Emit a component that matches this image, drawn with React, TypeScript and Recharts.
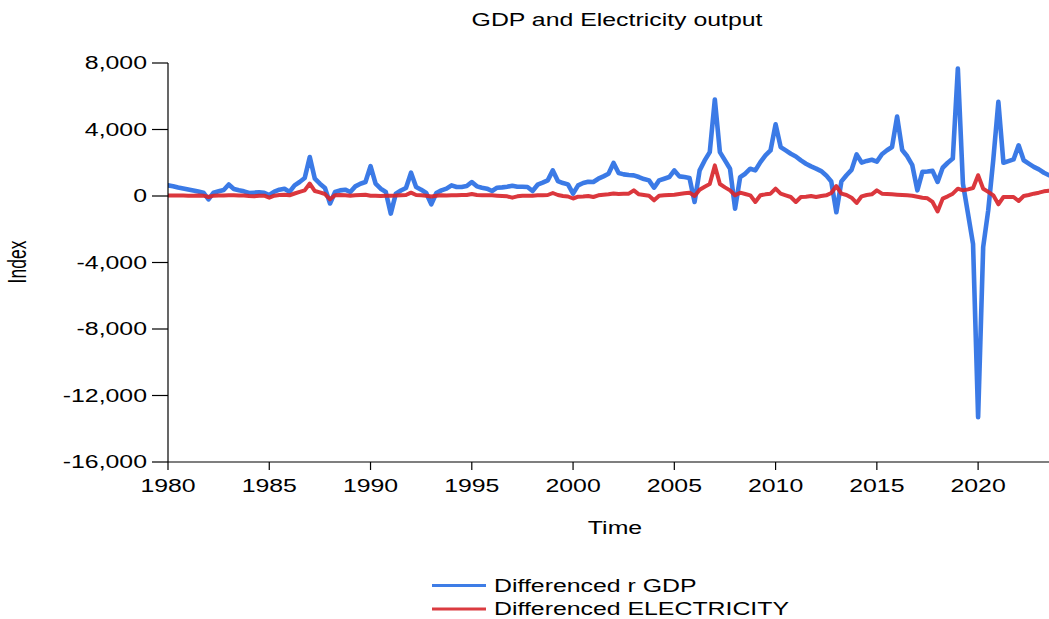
import React from "react";
import { LineChart, Line, XAxis, YAxis } from "recharts";

// Quarterly first differences, 1980Q1 – 2023Q3
const startYear = 1980;

const gdpDiff = [
  640, 590, 510, 450, // 1980
  390, 330, 270, 200, // 1981
  -200, 200, 280, 360, // 1982
  690, 420, 340, 280, // 1983
  180, 200, 220, 190, // 1984
  60, 260, 380, 440, // 1985
  250, 640, 840, 1080, // 1986
  2340, 1040, 740, 480, // 1987
  -450, 240, 340, 380, // 1988
  240, 580, 740, 840, // 1989
  1800, 740, 440, 250, // 1990
  -1060, 140, 330, 480, // 1991
  1400, 540, 380, 180, // 1992
  -500, 180, 340, 440, // 1993
  640, 540, 540, 600, // 1994
  840, 580, 500, 440, // 1995
  300, 500, 520, 560, // 1996
  620, 560, 560, 540, // 1997
  300, 680, 800, 940, // 1998
  1540, 900, 780, 700, // 1999
  140, 640, 780, 860, // 2000
  840, 1040, 1180, 1340, // 2001
  1990, 1380, 1300, 1260, // 2002
  1240, 1140, 1020, 940, // 2003
  500, 940, 1040, 1140, // 2004
  1540, 1180, 1140, 1080, // 2005
  -360, 1540, 2140, 2640, // 2006
  5800, 2640, 2140, 1640, // 2007
  -760, 1140, 1340, 1640, // 2008
  1540, 2040, 2440, 2740, // 2009
  4310, 2940, 2740, 2540, // 2010
  2380, 2140, 1940, 1780, // 2011
  1650, 1500, 1240, 870, // 2012
  -980, 880, 1250, 1570, // 2013
  2500, 2010, 2110, 2180, // 2014
  2070, 2510, 2750, 2950, // 2015
  4780, 2770, 2390, 1850, // 2016
  340, 1450, 1470, 1510, // 2017
  845, 1700, 2000, 2250, // 2018
  7670, 750, -1060, -2900, // 2019
  -13300, -3070, -860, 2200, // 2020
  5660, 2000, 2100, 2200, // 2021
  3050, 2150, 1950, 1750, // 2022
  1600, 1400, 1250, // 2023
];

const electricityDiff = [
  30, 30, 30, 30, // 1980
  20, 20, 30, 20, // 1981
  -60, 20, 30, 30, // 1982
  40, 40, 30, 30, // 1983
  0, -20, 10, 20, // 1984
  -100, 20, 60, 80, // 1985
  40, 150, 250, 340, // 1986
  750, 300, 220, 120, // 1987
  -200, 50, 60, 40, // 1988
  20, 40, 60, 80, // 1989
  20, 20, 0, 10, // 1990
  20, 30, 50, 60, // 1991
  200, 60, 40, 20, // 1992
  -30, 20, 40, 30, // 1993
  40, 40, 60, 60, // 1994
  120, 60, 50, 40, // 1995
  40, 20, 0, -20, // 1996
  -100, -20, 20, 20, // 1997
  20, 40, 50, 60, // 1998
  180, 60, 0, -30, // 1999
  -150, -40, -30, 0, // 2000
  -60, 40, 80, 100, // 2001
  150, 120, 130, 140, // 2002
  340, 100, 60, 20, // 2003
  -260, 20, 40, 60, // 2004
  80, 120, 160, 200, // 2005
  0, 380, 560, 720, // 2006
  1840, 720, 520, 340, // 2007
  40, 200, 120, 40, // 2008
  -360, 40, 100, 140, // 2009
  440, 140, 40, -60, // 2010
  -360, -60, -40, 0, // 2011
  -60, 0, 40, 180, // 2012
  600, 140, 60, -100, // 2013
  -420, -20, 60, 100, // 2014
  340, 140, 120, 100, // 2015
  80, 60, 40, 20, // 2016
  -40, -100, -140, -360, // 2017
  -930, -160, -20, 140, // 2018
  440, 340, 400, 480, // 2019
  1250, 440, 250, 40, // 2020
  -500, -60, -60, -60, // 2021
  -300, 0, 60, 140, // 2022
  200, 280, 320, // 2023
];

const yearTicks = [1980, 1985, 1990, 1995, 2000, 2005, 2010, 2015, 2020];
const valueTicks = [-16000, -12000, -8000, -4000, 0, 4000, 8000];

const seriesNames = ["Differenced r GDP", "Differenced ELECTRICITY"];
const seriesColors = ["#2a6fe4", "#d8262c"];

const data = gdpDiff.map((v, i) => ({
  t: startYear + i / 4,
  gdp: v,
  elec: electricityDiff[i],
}));

const FONT = "'Liberation Sans', Arial, Helvetica, sans-serif";
const FS = 17.5;
const SX = 1.42; // wide lettering

const fmt = (v: number) => v.toLocaleString("en-US");

const YTick = (props: any) => {
  const { x, y, payload } = props;
  return (
    <g transform={`translate(${x},${y})`}>
      <text
        transform={`scale(${SX},1)`}
        textAnchor="end"
        dy={6.2}
        fontSize={FS}
        fontFamily={FONT}
        fill="#000"
      >
        {fmt(payload.value)}
      </text>
    </g>
  );
};

const XTick = (props: any) => {
  const { x, y, payload } = props;
  return (
    <g transform={`translate(${x},${y})`}>
      <text
        transform={`scale(${SX},1)`}
        textAnchor="middle"
        dy={22}
        fontSize={FS}
        fontFamily={FONT}
        fill="#000"
      >
        {payload.value}
      </text>
    </g>
  );
};

const Label = ({ x, y, children, rotate }: any) => (
  <g transform={`translate(${x},${y}) scale(${SX},1)${rotate ? " rotate(-90)" : ""}`}>
    <text textAnchor="middle" fontSize={FS} fontFamily={FONT} fill="#000">
      {children}
    </text>
  </g>
);

export default function App() {
  return (
    <div style={{ position: "absolute", left: 0, top: 0, width: 1049, height: 619, background: "#fff" }}>
      <LineChart
        width={1049}
        height={619}
        data={data}
        margin={{ top: 63, right: 0, bottom: 117, left: 0 }}
      >
        <XAxis
          dataKey="t"
          type="number"
          domain={[1980, 2023.5]}
          allowDataOverflow
          ticks={yearTicks}
          interval={0}
          height={40}
          tickSize={8}
          tickMargin={0}
          tick={<XTick />}
          axisLine={{ stroke: "#000", strokeWidth: 1.2 }}
          tickLine={{ stroke: "#000", strokeWidth: 1.2 }}
        />
        <YAxis
          type="number"
          domain={[-16000, 8000]}
          ticks={valueTicks}
          interval={0}
          width={168}
          tickSize={16}
          tickMargin={5}
          tick={<YTick />}
          axisLine={{ stroke: "#000", strokeWidth: 1.2 }}
          tickLine={{ stroke: "#000", strokeWidth: 1.2 }}
        />
        <Line
          dataKey="gdp"
          name={seriesNames[0]}
          stroke={seriesColors[0]}
          strokeWidth={4.6}
          strokeOpacity={0.92}
          dot={false}
          strokeLinejoin="round"
          strokeLinecap="round"
          isAnimationActive={false}
        />
        <Line
          dataKey="elec"
          name={seriesNames[1]}
          stroke={seriesColors[1]}
          strokeWidth={4}
          strokeOpacity={0.92}
          dot={false}
          strokeLinejoin="round"
          strokeLinecap="round"
          isAnimationActive={false}
        />
      </LineChart>
      <svg
        width={1049}
        height={619}
        style={{ position: "absolute", left: 0, top: 0, pointerEvents: "none" }}
      >
        <Label x={617} y={26}>GDP and Electricity output</Label>
        <Label x={615} y={534}>Time</Label>
        <Label x={26} y={262} rotate>Index</Label>
        {seriesNames.map((name, i) => {
          const y = 585.5 + i * 23.5;
          return (
            <g key={name}>
              <line x1={432} x2={486} y1={y} y2={y} stroke={seriesColors[i]} strokeWidth={3} opacity={0.9} />
              <g transform={`translate(494,${y + 6.3}) scale(${SX},1)`}>
                <text fontSize={FS} fontFamily={FONT} fill="#000">{name}</text>
              </g>
            </g>
          );
        })}
      </svg>
    </div>
  );
}
